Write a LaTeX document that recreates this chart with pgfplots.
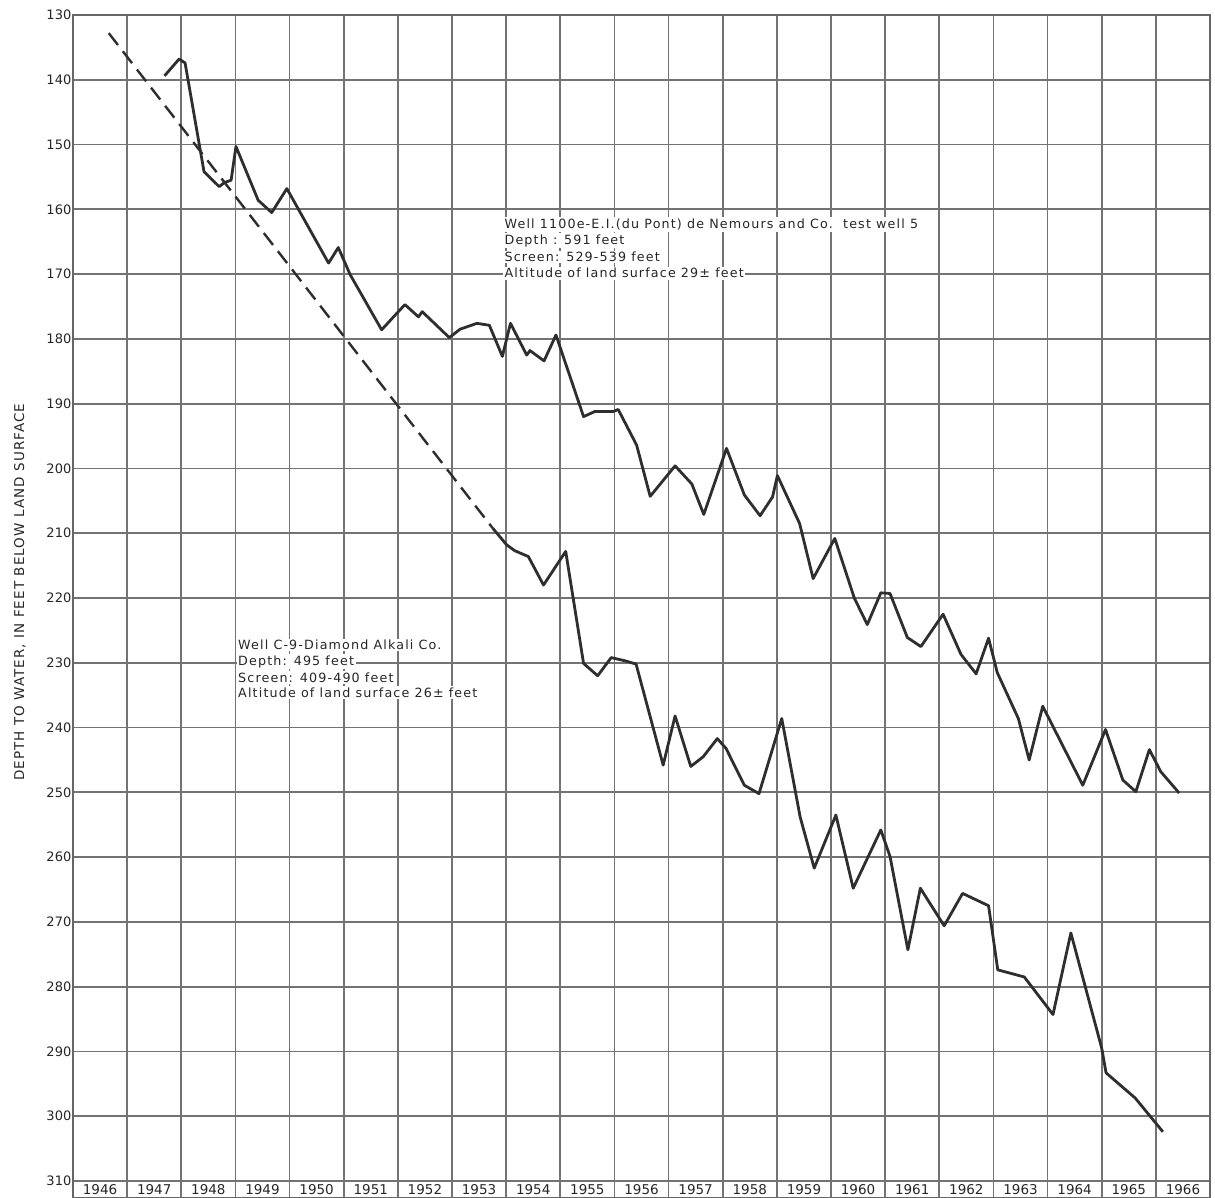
\documentclass[border=0pt]{standalone}
\usepackage{fontspec}
\setmainfont{DejaVu Sans}
\newfontfamily\annfont[LetterSpace=9]{DejaVu Sans}
\newfontfamily\labfont[LetterSpace=8]{DejaVu Sans}
\usepackage{pgfplots}
\pgfplotsset{compat=1.18}

\pgfplotstableread{
x y
1947.69 139.4
1947.96 136.8
1948.07 137.4
1948.42 154.2
1948.70 156.5
1948.79 155.9
1948.92 155.5
1949.01 150.3
1949.42 158.6
1949.67 160.5
1949.95 156.8
1950.72 168.3
1950.90 165.9
1951.12 170.1
1951.70 178.6
1952.13 174.7
1952.38 176.6
1952.45 175.8
1952.95 179.8
1953.15 178.5
1953.46 177.6
1953.69 177.9
1953.93 182.7
1954.08 177.6
1954.38 182.5
1954.44 181.8
1954.70 183.4
1954.92 179.4
1955.43 192.0
1955.64 191.2
1955.98 191.2
1956.07 190.9
1956.41 196.4
1956.66 204.3
1957.12 199.6
1957.43 202.4
1957.65 207.1
1958.07 196.9
1958.40 204.1
1958.69 207.3
1958.92 204.4
1959.01 201.1
1959.42 208.5
1959.67 217.0
1960.07 210.8
1960.43 220.0
1960.67 224.1
1960.92 219.2
1961.09 219.3
1961.41 226.1
1961.66 227.5
1962.07 222.5
1962.40 228.7
1962.68 231.7
1962.91 226.2
1963.07 231.5
1963.46 238.6
1963.66 245.0
1963.91 236.7
1964.65 248.9
1965.07 240.3
1965.39 248.1
1965.63 249.9
1965.88 243.4
1966.09 246.8
1966.43 250.1
}\wellA

\pgfplotstableread{
x y
1946.66 132.8
1953.75 209.2
}\wellBdash

\pgfplotstableread{
x y
1953.75 209.2
1954.01 211.8
1954.16 212.7
1954.41 213.6
1954.69 218.0
1955.10 212.8
1955.43 230.1
1955.69 232.0
1955.94 229.2
1956.20 229.7
1956.40 230.2
1956.90 245.8
1957.12 238.2
1957.41 246.0
1957.64 244.5
1957.90 241.7
1958.06 243.2
1958.40 248.9
1958.67 250.2
1959.09 238.6
1959.43 253.8
1959.69 261.7
1960.09 253.5
1960.41 264.8
1960.92 255.8
1961.09 259.9
1961.42 274.3
1961.65 264.8
1962.09 270.6
1962.43 265.6
1962.91 267.5
1963.08 277.4
1963.57 278.5
1964.10 284.3
1964.43 271.7
1965.00 289.5
1965.08 293.3
1965.62 297.2
1966.13 302.4
}\wellB

\begin{document}
\begin{tikzpicture}[x=1pt,y=1pt]
\path[use as bounding box] (0,0) rectangle (1215,1198);
\begin{axis}[
  at={(73pt,0pt)}, anchor=south west,
  scale only axis, width=1137pt, height=1183pt,
  xmin=1946, xmax=1967, ymin=130, ymax=312.62, y dir=reverse,
  ytick={130,140,...,310},
  xtick={1946.5,1947.5,...,1966.5},
  xticklabels={1946,1947,1948,1949,1950,1951,1952,1953,1954,1955,1956,1957,1958,1959,1960,1961,1962,1963,1964,1965,1966},
  minor xtick={1947,1948,...,1966},
  xmajorgrids=false, xminorgrids=true, ymajorgrids=true,
  major tick length=0pt, minor tick length=0pt,
  grid style={black!55, line width=1.8pt},
  minor grid style={black!55, line width=1.8pt},
  axis line style={black!60, line width=1.9pt},
  /pgf/number format/assume math mode=true,
  yticklabel style={inner sep=1.5pt, font=\fontsize{13}{13}\selectfont, text=black!85},
  xticklabel style={anchor=center, yshift=8.5pt, font=\fontsize{13.5}{13.5}\selectfont, text=black!85},
  ylabel={DEPTH TO WATER, IN FEET BELOW LAND SURFACE},
  every axis y label/.style={at={(axis description cs:-0.0466,0.512)}, rotate=90, anchor=center, font=\labfont\fontsize{13.5}{14}\selectfont, text=black!85},
]
\addplot[black!82, line width=2.8pt, line join=round] table[x=x,y=y]{\wellA};
\addplot[black!82, line width=2.8pt, line join=round] table[x=x,y=y]{\wellB};
\addplot[black!82, line width=2.4pt, dash pattern=on 15pt off 8pt] table[x=x,y=y]{\wellBdash};
\begin{scope}[every node/.style={fill=white, inner sep=1.5pt, anchor=west, font=\annfont\fontsize{12.7}{12.7}\selectfont, text=black!85}]
\node at (axis cs:1953.94,162.35) {Well 1100e-E.I.(du Pont) de Nemours and Co.\ \ test well 5};
\node at (axis cs:1953.94,164.85) {Depth : 591 feet};
\node at (axis cs:1953.94,167.35) {Screen: 529-539 feet};
\node at (axis cs:1953.94,169.85) {Altitude of land surface 29± feet};
\node at (axis cs:1949.02,227.25) {Well C-9-Diamond Alkali Co.};
\node at (axis cs:1949.02,229.85) {Depth: 495 feet};
\node at (axis cs:1949.02,232.3) {Screen: 409-490 feet};
\node at (axis cs:1949.02,234.6) {Altitude of land surface 26± feet};
\end{scope}
\end{axis}
\end{tikzpicture}
\end{document}
